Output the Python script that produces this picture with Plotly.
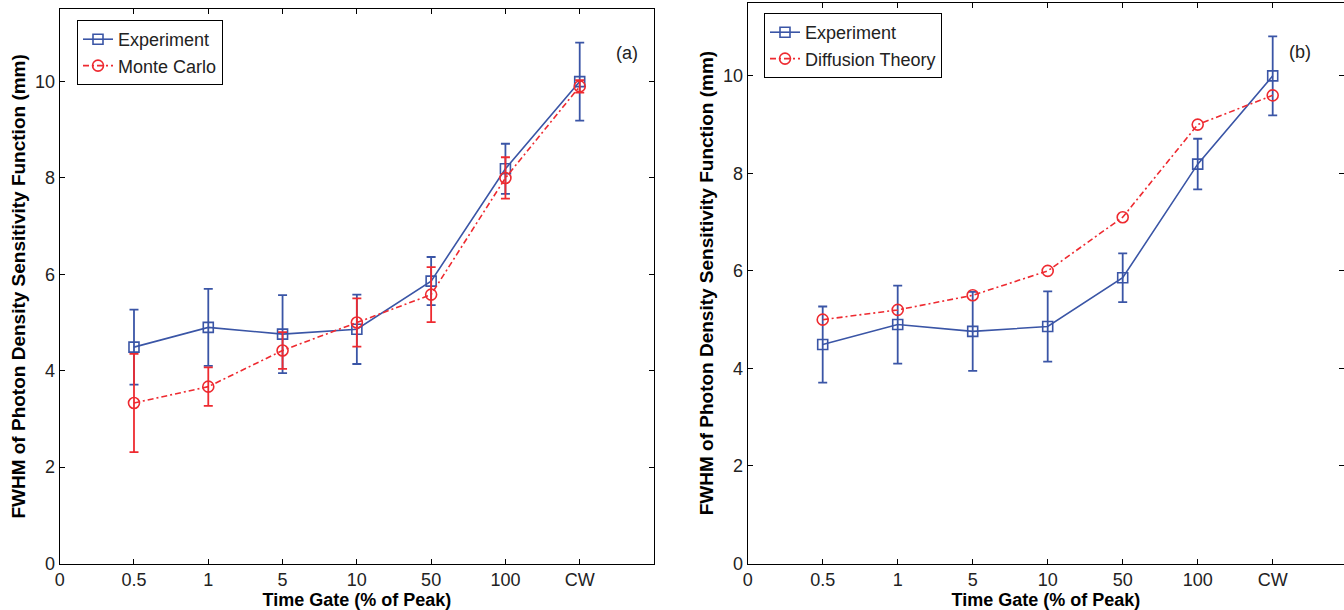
import plotly.graph_objects as go

# ---- data ----
time_gates = ["0.5", "1", "5", "10", "50", "100", "CW"]
tick_labels = ["0", "0.5", "1", "5", "10", "50", "100", "CW"]

exp_fwhm = [4.49, 4.90, 4.76, 4.86, 5.86, 8.19, 10.0]
exp_err = [0.78, 0.80, 0.81, 0.72, 0.50, 0.52, 0.81]

mc_fwhm = [3.33, 3.67, 4.42, 5.00, 5.58, 8.00, 9.90]
mc_err = [1.02, 0.40, 0.38, 0.50, 0.57, 0.43, 0.13]

dt_fwhm = [5.00, 5.20, 5.50, 6.00, 7.10, 9.00, 9.60]

y_ticks = [0, 2, 4, 6, 8, 10]

# ---- styling ----
BLUE = "#3A55A6"
RED = "#EE2A30"
FONT = "Liberation Sans, Arial, Helvetica, sans-serif"
W, H = 1344, 610

x_pos = list(range(1, len(time_gates) + 1))
tick_pos = list(range(0, len(tick_labels)))

fig = go.Figure()

# Panel (a)
fig.add_trace(go.Scatter(
    x=x_pos, y=exp_fwhm, name="Experiment", mode="lines+markers",
    line=dict(color=BLUE, width=1.6),
    marker=dict(symbol="square-open", size=10, color=BLUE, line=dict(width=1.6, color=BLUE)),
    error_y=dict(type="data", array=exp_err, color=BLUE, thickness=1.8, width=4.5),
    xaxis="x", yaxis="y", legend="legend",
))
fig.add_trace(go.Scatter(
    x=x_pos, y=mc_fwhm, name="Monte Carlo", mode="lines+markers",
    line=dict(color=RED, width=1.6, dash="6px,3px,2px,3px"),
    marker=dict(symbol="circle-open", size=11, color=RED, line=dict(width=1.6, color=RED)),
    error_y=dict(type="data", array=mc_err, color=RED, thickness=1.8, width=4.5),
    xaxis="x", yaxis="y", legend="legend",
))

# Panel (b)
fig.add_trace(go.Scatter(
    x=x_pos, y=exp_fwhm, name="Experiment", mode="lines+markers",
    line=dict(color=BLUE, width=1.6),
    marker=dict(symbol="square-open", size=10, color=BLUE, line=dict(width=1.6, color=BLUE)),
    error_y=dict(type="data", array=exp_err, color=BLUE, thickness=1.8, width=4.5),
    xaxis="x2", yaxis="y2", legend="legend2",
))
fig.add_trace(go.Scatter(
    x=x_pos, y=dt_fwhm, name="Diffusion Theory", mode="lines+markers",
    line=dict(color=RED, width=1.6, dash="6px,3px,2px,3px"),
    marker=dict(symbol="circle-open", size=11, color=RED, line=dict(width=1.6, color=RED)),
    xaxis="x2", yaxis="y2", legend="legend2",
))

# domains (pixel-derived)
lx0, lx1 = 59.7 / W, 654.0 / W
ly0, ly1 = (H - 563.5) / H, (H - 9.3) / H
rx0, rx1 = 747.7 / W, 1.0
ry0, ry1 = (H - 563.5) / H, (H - 2.7) / H
r_xmax = 8 * (W - 747.7) / (8 * 75.0)

axis_common = dict(
    showgrid=False, zeroline=False, showline=True, linecolor="black", linewidth=1,
    mirror="ticks", ticks="inside", ticklen=5, tickcolor="black", tickwidth=1,
    tickfont=dict(family=FONT, size=18, color="#222"), automargin=False,
)

xt = dict(tickmode="array", tickvals=tick_pos, ticktext=tick_labels)
yt = dict(tickmode="array", tickvals=y_ticks, ticktext=[str(v) for v in y_ticks])

title_font = dict(family=FONT, size=18, color="black")
ytitle_font = dict(family=FONT, size=19, color="black")

legend_common = dict(
    xanchor="left", yanchor="top", bordercolor="black", borderwidth=1, bgcolor="white",
    font=dict(family=FONT, size=18, color="#222"), tracegroupgap=0, itemwidth=30,
)

fig.update_layout(
    width=W, height=H,
    margin=dict(l=0, r=0, t=0, b=0),
    paper_bgcolor="white", plot_bgcolor="white",
    xaxis=dict(domain=[lx0, lx1], range=[0, 8], anchor="y", **xt, **axis_common,
               title=dict(text="<b>Time Gate (% of Peak)</b>", font=title_font, standoff=2)),
    yaxis=dict(domain=[ly0, ly1], range=[0, 11.5], anchor="x", **yt, **axis_common,
               title=dict(text="<b>FWHM of Photon Density Sensitivity Function (mm)</b>",
                          font=ytitle_font, standoff=4)),
    xaxis2=dict(domain=[rx0, rx1], range=[0, r_xmax], anchor="y2", **xt, **axis_common,
                title=dict(text="<b>Time Gate (% of Peak)</b>", font=title_font, standoff=2)),
    yaxis2=dict(domain=[ry0, ry1], range=[0, 11.5], anchor="x2", **yt, **axis_common,
                title=dict(text="<b>FWHM of Photon Density Sensitivity Function (mm)</b>",
                           font=ytitle_font, standoff=4)),
    legend=dict(x=77 / W, y=1 - 20 / H, **legend_common),
    legend2=dict(x=764 / W, y=1 - 13 / H, **legend_common),
    showlegend=True,
    annotations=[
        dict(text="(a)", x=627 / W, y=1 - 41 / H, xref="paper", yref="paper",
             showarrow=False, font=dict(family=FONT, size=18, color="#222")),
        dict(text="(b)", x=1313 / W, y=1 - 40 / H, xref="paper", yref="paper",
             showarrow=False, font=dict(family=FONT, size=18, color="#222")),
    ],
)

fig.write_html(
    "out.html",
    config={"displayModeBar": False},
    post_script="document.body.style.margin='0';document.body.style.padding='0';"
                "document.documentElement.style.overflow='hidden';",
)
